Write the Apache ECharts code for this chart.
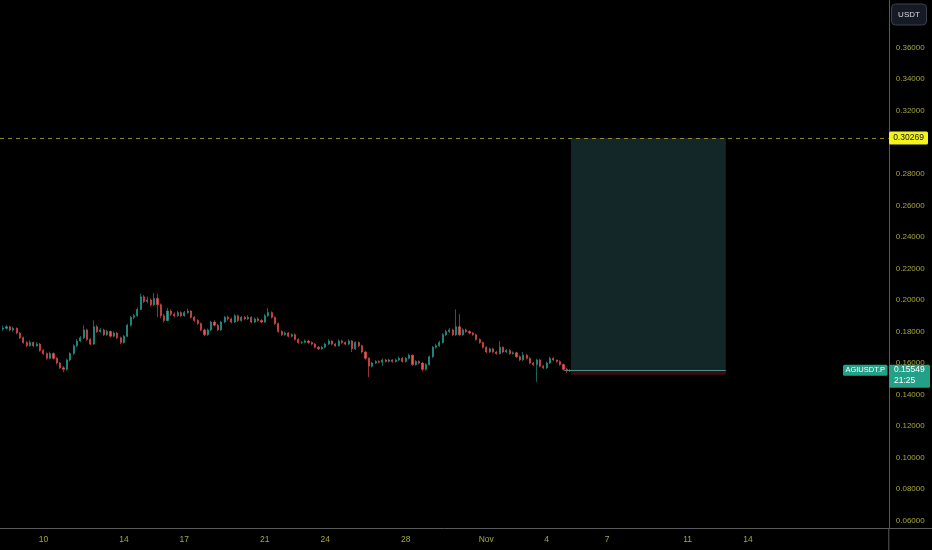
<!DOCTYPE html>
<html>
<head>
<meta charset="utf-8">
<style>
  html, body { margin: 0; padding: 0; background: #000; }
  #main { width: 932px; height: 550px; }
</style>
<script src="https://cdn.jsdelivr.net/npm/echarts@6/dist/echarts.min.js"></script>
</head>
<body>
<div id="main"></div>
<script>
var DAY = 864e5;
var HOUR = 36e5;

// 4h candles, first one at Oct 8 00:00 UTC
var candleStart = Date.UTC(2024, 9, 8);
var candleStep = 4 * HOUR;

// [open, close, low, high]
var ohlc = [
  [.1815,.1820,.1805,.1838],[.1820,.1830,.1812,.1842],[.1830,.1810,.1802,.1836],[.1810,.1820,.1798,.1831],
  [.1820,.1790,.1782,.1826],[.1790,.1760,.1752,.1796],[.1760,.1730,.1722,.1768],[.1730,.1710,.1702,.1741],
  [.1710,.1730,.1705,.1745],[.1730,.1710,.1700,.1737],[.1710,.1720,.1703,.1733],[.1720,.1680,.1671,.1728],
  [.1680,.1660,.1652,.1689],[.1660,.1630,.1621,.1667],[.1630,.1660,.1624,.1672],[.1660,.1630,.1622,.1668],
  [.1630,.1600,.1591,.1637],[.1600,.1570,.1562,.1606],[.1570,.1560,.1542,.1581],[.1560,.1620,.1553,.1628],
  [.1620,.1660,.1611,.1668],[.1660,.1710,.1652,.1718],[.1710,.1740,.1700,.1752],[.1740,.1760,.1731,.1771],
  [.1760,.1810,.1752,.1840],[.1810,.1750,.1741,.1818],[.1750,.1720,.1712,.1758],[.1720,.1830,.1716,.1870],
  [.1830,.1800,.1790,.1841],[.1800,.1810,.1792,.1822],[.1810,.1780,.1771,.1818],[.1780,.1800,.1772,.1811],
  [.1800,.1770,.1762,.1806],[.1770,.1790,.1763,.1801],[.1790,.1760,.1752,.1797],[.1760,.1730,.1721,.1768],
  [.1730,.1770,.1723,.1778],[.1770,.1840,.1765,.1849],[.1840,.1890,.1832,.1898],[.1890,.1900,.1878,.1912],
  [.1900,.1940,.1893,.1952],[.1940,.2020,.1936,.2040],[.2020,.1990,.1980,.2031],[.1990,.2000,.1978,.2022],
  [.2000,.1970,.1958,.2011],[.1970,.2010,.1962,.2045],[.2010,.1970,.1890,.2040],[.1970,.1900,.1885,.1978],
  [.1900,.1870,.1858,.1912],[.1870,.1930,.1864,.1950],[.1930,.1910,.1898,.1940],[.1910,.1900,.1889,.1922],
  [.1900,.1920,.1893,.1931],[.1920,.1900,.1891,.1928],[.1900,.1920,.1894,.1930],[.1920,.1930,.1911,.1945],
  [.1930,.1890,.1882,.1936],[.1890,.1870,.1861,.1898],[.1870,.1850,.1842,.1878],[.1850,.1810,.1802,.1857],
  [.1810,.1780,.1770,.1818],[.1780,.1810,.1773,.1819],[.1810,.1860,.1803,.1868],[.1860,.1840,.1832,.1871],
  [.1840,.1810,.1801,.1848],[.1810,.1860,.1804,.1867],[.1860,.1890,.1852,.1899],[.1890,.1880,.1869,.1901],
  [.1880,.1860,.1851,.1888],[.1860,.1900,.1854,.1910],[.1900,.1870,.1861,.1907],[.1870,.1890,.1862,.1899],
  [.1890,.1880,.1871,.1898],[.1880,.1890,.1872,.1903],[.1890,.1860,.1852,.1896],[.1860,.1880,.1853,.1889],
  [.1880,.1870,.1862,.1891],[.1870,.1860,.1853,.1879],[.1860,.1900,.1855,.1910],[.1900,.1920,.1893,.1950],
  [.1920,.1890,.1882,.1928],[.1890,.1850,.1841,.1896],[.1850,.1800,.1792,.1857],[.1800,.1780,.1771,.1808],
  [.1780,.1790,.1773,.1799],[.1790,.1770,.1762,.1797],[.1770,.1780,.1763,.1788],[.1780,.1750,.1742,.1787],
  [.1750,.1730,.1722,.1757],[.1730,.1732,.1721,.1741],[.1732,.1740,.1725,.1749],[.1740,.1730,.1721,.1747],
  [.1730,.1720,.1712,.1737],[.1720,.1700,.1692,.1727],[.1700,.1690,.1682,.1708],[.1690,.1700,.1683,.1709],
  [.1700,.1720,.1694,.1729],[.1720,.1740,.1714,.1751],[.1740,.1720,.1712,.1746],[.1720,.1710,.1702,.1728],
  [.1710,.1740,.1704,.1749],[.1740,.1730,.1722,.1748],[.1730,.1720,.1713,.1737],[.1720,.1740,.1714,.1751],
  [.1740,.1690,.1670,.1746],[.1690,.1730,.1683,.1738],[.1730,.1710,.1702,.1737],[.1710,.1670,.1661,.1716],
  [.1670,.1630,.1621,.1676],[.1630,.1580,.1510,.1636],[.1580,.1600,.1572,.1608],[.1600,.1610,.1593,.1619],
  [.1610,.1605,.1597,.1618],[.1605,.1620,.1580,.1629],[.1620,.1610,.1602,.1627],[.1610,.1620,.1603,.1628],
  [.1620,.1610,.1602,.1626],[.1610,.1620,.1604,.1629],[.1620,.1630,.1612,.1641],[.1630,.1610,.1603,.1637],
  [.1610,.1630,.1604,.1638],[.1630,.1650,.1623,.1660],[.1650,.1590,.1582,.1655],[.1590,.1610,.1583,.1618],
  [.1610,.1600,.1592,.1617],[.1600,.1560,.1548,.1606],[.1560,.1590,.1553,.1598],[.1590,.1640,.1583,.1648],
  [.1640,.1700,.1633,.1708],[.1700,.1710,.1691,.1722],[.1710,.1730,.1702,.1741],[.1730,.1780,.1724,.1790],
  [.1780,.1800,.1772,.1811],[.1800,.1810,.1791,.1823],[.1810,.1780,.1771,.1818],[.1780,.1830,.1772,.1940],
  [.1830,.1780,.1770,.1910],[.1780,.1810,.1773,.1821],[.1810,.1800,.1791,.1819],[.1800,.1790,.1782,.1808],
  [.1790,.1780,.1772,.1797],[.1780,.1750,.1742,.1787],[.1750,.1730,.1722,.1757],[.1730,.1700,.1692,.1737],
  [.1700,.1670,.1662,.1707],[.1670,.1690,.1663,.1698],[.1690,.1670,.1662,.1697],[.1670,.1660,.1652,.1677],
  [.1660,.1700,.1654,.1740],[.1700,.1670,.1662,.1706],[.1670,.1680,.1663,.1689],[.1680,.1660,.1652,.1687],
  [.1660,.1665,.1653,.1674],[.1665,.1640,.1632,.1671],[.1640,.1620,.1612,.1647],[.1620,.1650,.1614,.1670],
  [.1650,.1630,.1622,.1657],[.1630,.1600,.1592,.1637],[.1600,.1590,.1581,.1607],[.1590,.1620,.1480,.1628],
  [.1620,.1580,.1572,.1627],[.1580,.1570,.1561,.1588],[.1570,.1600,.1563,.1609],[.1600,.1630,.1594,.1639],
  [.1630,.1620,.1611,.1637],[.1620,.1610,.1602,.1618],[.1610,.1590,.1582,.1617],[.1590,.1560,.1552,.1597],
  [.1560,.1550,.1538,.1568],[.1550,.15549,.1544,.1561]
];

var yTicks = [0.06, 0.08, 0.10, 0.12, 0.14, 0.16, 0.18, 0.20, 0.22, 0.24, 0.26, 0.28, 0.30, 0.32, 0.34, 0.36];
var xTicks = [
  Date.UTC(2024, 9, 10), Date.UTC(2024, 9, 14), Date.UTC(2024, 9, 17), Date.UTC(2024, 9, 21),
  Date.UTC(2024, 9, 24), Date.UTC(2024, 9, 28), Date.UTC(2024, 10, 1), Date.UTC(2024, 10, 4),
  Date.UTC(2024, 10, 7), Date.UTC(2024, 10, 11), Date.UTC(2024, 10, 14)
];

var symbol = 'AGIUSDT.P';
var lastPrice = 0.15549;
var countdown = '21:25';
var targetPrice = 0.30269;
var entryPrice = 0.1552;
var stopPrice = 0.1526;
var posStart = Date.UTC(2024, 10, 5, 5, 0);
var posEnd = Date.UTC(2024, 10, 12, 21, 30);
var lineStart = Date.UTC(2024, 10, 4, 21, 0);

var xMin = Date.UTC(2024, 9, 10) - 2.156 * DAY;
var xMax = xMin + 44.15 * DAY;

var labelColor = '#a6a63a';
var upColor = '#26a69a';
var downColor = '#ef5350';
var axisColor = '#5a5a5a';

var candleData = [];
for (var i = 0; i < ohlc.length; i++) {
    candleData.push([candleStart + i * candleStep].concat(ohlc[i]));
}

var chart = echarts.init(document.getElementById('main'));

var option = {
    backgroundColor: '#000',
    animation: false,
    grid: {left: 0, right: 43.2, top: 0, bottom: 22},
    xAxis: {
        type: 'value',
        min: xMin,
        max: xMax,
        axisLine: {show: true, lineStyle: {color: axisColor, width: 1}},
        axisTick: {show: false},
        splitLine: {show: false},
        axisLabel: {
            customValues: xTicks,
            color: labelColor,
            fontSize: 8.5,
            fontFamily: 'Liberation Sans',
            margin: 7,
            formatter: function (v) {
                var d = new Date(v);
                return d.getUTCDate() === 1 ? 'Nov' : String(d.getUTCDate());
            }
        }
    },
    yAxis: {
        type: 'value',
        position: 'right',
        min: 0.05537,
        max: 0.39025,
        axisLine: {show: true, lineStyle: {color: axisColor, width: 1}},
        axisTick: {show: false},
        splitLine: {show: false},
        axisLabel: {
            customValues: yTicks,
            color: labelColor,
            fontSize: 8,
            fontFamily: 'Liberation Sans',
            margin: 7,
            formatter: function (v) { return v.toFixed(5); }
        }
    },
    series: [{
        type: 'candlestick',
        data: candleData,
        encode: {x: 0, y: [1, 2, 3, 4]},
        barWidth: 1.6,
        itemStyle: {
            color: upColor, color0: downColor,
            borderColor: upColor, borderColor0: downColor,
            borderWidth: 0.6
        },
        markArea: {
            silent: true,
            data: [
                [{xAxis: posStart, yAxis: targetPrice, itemStyle: {color: '#132729'}},
                 {xAxis: posEnd, yAxis: entryPrice}],
                [{xAxis: posStart, yAxis: entryPrice, itemStyle: {color: '#3a0d12'}},
                 {xAxis: posEnd, yAxis: stopPrice}]
            ]
        },
        markLine: {
            silent: true,
            symbol: 'none',
            label: {show: false},
            data: [
                [{coord: [xMin, targetPrice], lineStyle: {color: '#8c8c2a', type: [4, 4], width: 1}},
                 {coord: [xMax, targetPrice]}],
                [{coord: [lineStart, entryPrice], lineStyle: {color: '#4f8f8c', type: 'solid', width: 1}},
                 {coord: [posEnd, entryPrice]}]
            ]
        }
    }]
};

chart.setOption(option);

// price labels on the right axis, placed through the y scale
var yTarget = chart.convertToPixel({yAxisIndex: 0}, targetPrice);
var yLast = chart.convertToPixel({yAxisIndex: 0}, lastPrice);
var teal = '#22a088';

chart.setOption({
    graphic: [
        {type: 'line', shape: {x1: 888.8, y1: 528.5, x2: 932, y2: 528.5}, style: {stroke: axisColor, lineWidth: 1}},
        {type: 'line', shape: {x1: 888.8, y1: 528, x2: 888.8, y2: 550}, style: {stroke: axisColor, lineWidth: 1}},
        {type: 'rect', shape: {x: 889, y: yTarget - 6.5, width: 39, height: 13, r: 1.5}, style: {fill: '#f2f21c'}, z: 100},
        {type: 'text', x: 908.5, y: yTarget, z: 101,
         style: {text: targetPrice.toFixed(5), fill: '#141414', font: '8.5px Liberation Sans', align: 'center', verticalAlign: 'middle'}},
        {type: 'rect', shape: {x: 843, y: yLast - 5.5, width: 44.5, height: 11, r: 1.5}, style: {fill: teal}, z: 100},
        {type: 'text', x: 865.2, y: yLast, z: 101,
         style: {text: symbol, fill: '#ffffff', font: '7.5px Liberation Sans', align: 'center', verticalAlign: 'middle'}},
        {type: 'rect', shape: {x: 889, y: yLast - 5.5, width: 41, height: 23, r: 1.5}, style: {fill: teal}, z: 100},
        {type: 'text', x: 894, y: yLast, z: 101,
         style: {text: lastPrice.toFixed(5), fill: '#ffffff', font: '8.5px Liberation Sans', align: 'left', verticalAlign: 'middle'}},
        {type: 'text', x: 894, y: yLast + 11, z: 101,
         style: {text: countdown, fill: '#ffffff', font: '8.5px Liberation Sans', align: 'left', verticalAlign: 'middle'}},
        {type: 'rect', shape: {x: 891.5, y: 4, width: 35, height: 21, r: 4}, style: {fill: '#161a25', stroke: '#3c404c', lineWidth: 1}, z: 100},
        {type: 'text', x: 909, y: 14.5, z: 101,
         style: {text: 'USDT', fill: '#d8dae0', font: '8px Liberation Sans', align: 'center', verticalAlign: 'middle'}}
    ]
});
</script>
</body>
</html>
